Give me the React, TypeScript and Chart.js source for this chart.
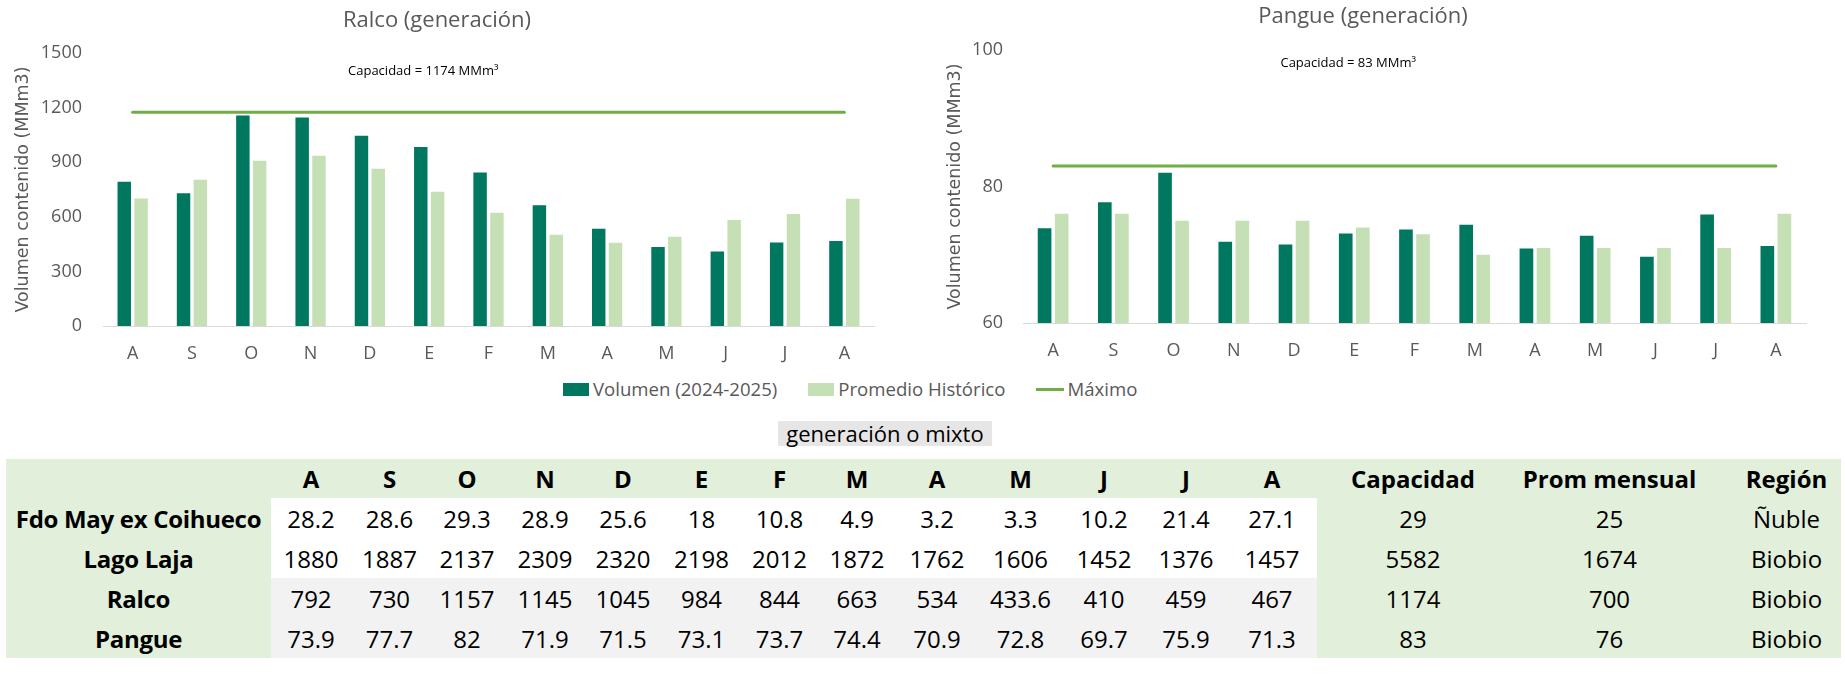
import React, { useEffect, useRef } from "react";
import { Chart, registerables } from "chart.js";

Chart.register(...registerables);

// ---------- data ----------
const months = ["A", "S", "O", "N", "D", "E", "F", "M", "A", "M", "J", "J", "A"];

const ralcoVolumen = [792, 730, 1157, 1145, 1045, 984, 844, 663, 534, 433.6, 410, 459, 467];
const ralcoPromedio = [700, 803, 908, 935, 864, 737, 622, 501, 457, 490, 583, 616, 699];
const ralcoCapacidad = 1174;
const ralcoPromMensual = 700;

const pangueVolumen = [73.9, 77.7, 82, 71.9, 71.5, 73.1, 73.7, 74.4, 70.9, 72.8, 69.7, 75.9, 71.3];
const panguePromedio = [76, 76, 75, 75, 75, 74, 73, 70, 71, 71, 71, 71, 76];
const pangueCapacidad = 83;
const panguePromMensual = 76;

const fdoMayValues = [28.2, 28.6, 29.3, 28.9, 25.6, 18, 10.8, 4.9, 3.2, 3.3, 10.2, 21.4, 27.1];
const lagoLajaValues = [1880, 1887, 2137, 2309, 2320, 2198, 2012, 1872, 1762, 1606, 1452, 1376, 1457];

const tableNames = ["Fdo May ex Coihueco", "Lago Laja", "Ralco", "Pangue"];
const tableCapacidad = [29, 5582, ralcoCapacidad, pangueCapacidad];
const tablePromMensual = [25, 1674, ralcoPromMensual, panguePromMensual];
const tableRegion = ["Ñuble", "Biobio", "Biobio", "Biobio"];
const tableValues = [fdoMayValues, lagoLajaValues, ralcoVolumen, pangueVolumen];
const tableExtraHeaders = ["Capacidad", "Prom mensual", "Región"];

const ralcoTicks = { min: 0, max: 1500, step: 300 };
const pangueTicks = { min: 60, max: 100, step: 20 };

const seriesNames = ["Volumen (2024-2025)", "Promedio Histórico", "Máximo"];

// ---------- styles ----------
const DARK = "#00775F";
const LIGHT = "#C5E0B4";
const MAXC = "#70AD47";
const GREY_TXT = "#595959";
const FONT = "'Open Sans', 'Noto Sans', sans-serif";
const AXIS_TITLE_FONT = "'DejaVu Sans', Verdana, sans-serif";
const TABLE_GREEN = "#E2EFDA";
const TABLE_GREY = "#F2F2F2";

const capLabelPlugin = {
  id: "capLabel",
  afterDatasetsDraw(chart: any, _args: any, opts: any) {
    if (!opts || !opts.text) return;
    const { ctx, scales } = chart;
    const x = scales.x.getPixelForValue(opts.xIndex);
    const y = scales.y.getPixelForValue(opts.yValue);
    ctx.save();
    ctx.font = `13px ${FONT}`;
    ctx.fillStyle = "#000000";
    ctx.textAlign = "center";
    ctx.textBaseline = "middle";
    ctx.fillText(opts.text, x, y);
    ctx.restore();
  },
};

type ChartSpec = {
  title: string;
  vol: number[];
  prom: number[];
  cap: number;
  ticks: { min: number; max: number; step: number };
  padRight: number;
  titlePadTop: number;
  titlePadBottom: number;
  axisTitlePad: number;
  tickPad: number;
  xAxisHeight: number;
  capText: string;
  capY: number;
};

function buildChart(canvas: HTMLCanvasElement, s: ChartSpec) {
  return new Chart(canvas, {
    type: "bar",
    data: {
      labels: months,
      datasets: [
        {
          type: "bar",
          label: seriesNames[0],
          data: s.vol,
          backgroundColor: DARK,
          categoryPercentage: 0.567,
          barPercentage: 0.8,
          order: 1,
        },
        {
          type: "bar",
          label: seriesNames[1],
          data: s.prom,
          backgroundColor: LIGHT,
          categoryPercentage: 0.567,
          barPercentage: 0.8,
          order: 1,
        },
        {
          type: "line",
          label: seriesNames[2],
          data: months.map(() => s.cap),
          borderColor: MAXC,
          backgroundColor: MAXC,
          borderWidth: 3,
          pointRadius: 0,
          borderCapStyle: "round",
          order: 0,
        } as any,
      ],
    },
    options: {
      responsive: true,
      maintainAspectRatio: false,
      animation: false,
      layout: { padding: { left: 0, right: s.padRight, top: 0, bottom: 0 } },
      plugins: {
        legend: { display: false },
        tooltip: { enabled: false },
        title: {
          display: true,
          text: s.title,
          color: GREY_TXT,
          font: { family: FONT, size: 22, weight: "normal" },
          padding: { top: s.titlePadTop, bottom: s.titlePadBottom },
        },
        capLabel: { text: s.capText, xIndex: 4.9, yValue: s.capY },
      } as any,
      scales: {
        x: {
          grid: { display: false, drawTicks: false },
          border: { display: true, color: "#D9D9D9", width: 1 },
          ticks: { color: GREY_TXT, font: { family: FONT, size: 18 }, padding: 17 },
          afterFit: (sc: any) => {
            sc.height = s.xAxisHeight;
          },
        },
        y: {
          min: s.ticks.min,
          max: s.ticks.max,
          ticks: {
            stepSize: s.ticks.step,
            color: GREY_TXT,
            font: { family: FONT, size: 18 },
            padding: s.tickPad,
            callback: (v: any) => String(v),
          },
          grid: { display: false, drawTicks: false },
          border: { display: false },
          title: {
            display: true,
            text: "Volumen contenido (MMm3)",
            color: GREY_TXT,
            font: { family: AXIS_TITLE_FONT, size: 17.5 },
            padding: { top: s.axisTitlePad, bottom: 0 },
          },
          afterFit: (sc: any) => {
            sc.width = 103;
          },
        },
      },
    },
    plugins: [capLabelPlugin],
  } as any);
}

function ChartBox(props: { spec: ChartSpec; left: number; width: number }) {
  const ref = useRef<HTMLCanvasElement | null>(null);
  useEffect(() => {
    if (!ref.current) return;
    const ch = buildChart(ref.current, props.spec);
    return () => ch.destroy();
  }, []);
  return (
    <div style={{ position: "absolute", left: props.left, top: 0, width: props.width, height: 375 }}>
      <canvas ref={ref} />
    </div>
  );
}

const ralcoSpec: ChartSpec = {
  title: "Ralco (generación)",
  vol: ralcoVolumen,
  prom: ralcoPromedio,
  cap: ralcoCapacidad,
  ticks: ralcoTicks,
  padRight: 46,
  titlePadTop: 7.3,
  titlePadBottom: 19.3,
  axisTitlePad: 12.5,
  tickPad: 21,
  xAxisHeight: 49,
  capText: `Capacidad = ${ralcoCapacidad} MMm³`,
  capY: 1400,
};

const pangueSpec: ChartSpec = {
  title: "Pangue (generación)",
  vol: pangueVolumen,
  prom: panguePromedio,
  cap: pangueCapacidad,
  ticks: pangueTicks,
  padRight: 39,
  titlePadTop: 3.3,
  titlePadBottom: 20.3,
  axisTitlePad: 24.5,
  tickPad: 20,
  xAxisHeight: 52,
  capText: `Capacidad = ${pangueCapacidad} MMm³`,
  capY: 98.1,
};

const monthColWidths = [80, 77, 78, 78, 78, 79, 77, 78, 82, 85, 82, 82, 90];
const extraColWidths = [192, 201, 131];

export default function App() {
  const cell: React.CSSProperties = {
    padding: 0,
    textAlign: "center",
    whiteSpace: "nowrap",
    overflow: "visible",
  };
  return (
    <div
      style={{
        position: "absolute",
        left: 0,
        top: 0,
        width: 1845,
        height: 684,
        background: "#ffffff",
        fontFamily: FONT,
      }}
    >
      <ChartBox spec={ralcoSpec} left={0} width={920} />
      <ChartBox spec={pangueSpec} left={920} width={925} />

      {/* shared legend */}
      <div
        style={{
          position: "absolute",
          left: 563,
          top: 378,
          height: 22,
          display: "flex",
          alignItems: "center",
          fontSize: 18.6,
          lineHeight: "22px",
          color: GREY_TXT,
          whiteSpace: "nowrap",
        }}
      >
        <span style={{ display: "inline-block", width: 26, height: 13, background: DARK, marginRight: 4 }} />
        <span>{seriesNames[0]}</span>
        <span style={{ display: "inline-block", width: 26, height: 13, background: LIGHT, marginLeft: 31, marginRight: 4 }} />
        <span>{seriesNames[1]}</span>
        <span style={{ display: "inline-block", width: 28, height: 3, background: MAXC, marginLeft: 31, marginRight: 3 }} />
        <span>{seriesNames[2]}</span>
      </div>

      {/* table caption */}
      <div
        style={{
          position: "absolute",
          left: 778,
          top: 421,
          width: 214,
          height: 25,
          background: "#E7E6E6",
          fontSize: 22,
          lineHeight: "25px",
          textAlign: "center",
          color: "#000",
          whiteSpace: "nowrap",
        }}
      >
        generación o mixto
      </div>

      <table
        style={{
          position: "absolute",
          left: 6,
          top: 459,
          width: 1835,
          borderCollapse: "collapse",
          tableLayout: "fixed",
          fontSize: 24,
          color: "#000",
        }}
      >
        <colgroup>
          <col style={{ width: 265 }} />
          {monthColWidths.map((w, i) => (
            <col key={i} style={{ width: w }} />
          ))}
          {extraColWidths.map((w, i) => (
            <col key={"e" + i} style={{ width: w }} />
          ))}
        </colgroup>
        <tbody>
          <tr style={{ height: 39, background: TABLE_GREEN }}>
            <td style={cell}></td>
            {months.map((m, i) => (
              <td key={i} style={{ ...cell, fontWeight: 700 }}>
                {m}
              </td>
            ))}
            {tableExtraHeaders.map((h, i) => (
              <td key={"h" + i} style={{ ...cell, fontWeight: 700, paddingLeft: i === 2 ? 22 : 0 }}>
                {h}
              </td>
            ))}
          </tr>
          {tableNames.map((name, r) => (
            <tr key={r} style={{ height: 40 }}>
              <td style={{ ...cell, fontWeight: 700, background: TABLE_GREEN, letterSpacing: -0.3 }}>{name}</td>
              {tableValues[r].map((v, i) => (
                <td key={i} style={{ ...cell, background: r < 2 ? "#FFFFFF" : TABLE_GREY }}>
                  {String(v)}
                </td>
              ))}
              <td style={{ ...cell, background: TABLE_GREEN }}>{tableCapacidad[r]}</td>
              <td style={{ ...cell, background: TABLE_GREEN }}>{tablePromMensual[r]}</td>
              <td style={{ ...cell, background: TABLE_GREEN, paddingLeft: 22 }}>{tableRegion[r]}</td>
            </tr>
          ))}
        </tbody>
      </table>
    </div>
  );
}
